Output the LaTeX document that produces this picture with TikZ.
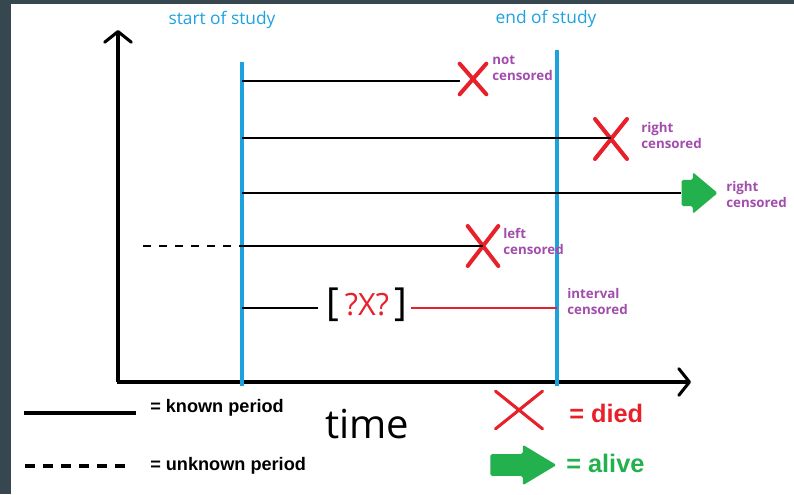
\documentclass[tikz,border=0pt]{standalone}
\usepackage{fontspec}
\setmainfont{Open Sans}
\newfontfamily\legendfont{Liberation Sans}
\usetikzlibrary{arrows.meta, positioning, shapes.misc, shapes.arrows}

\definecolor{studyblue}{HTML}{1CA3DE}
\definecolor{censpurple}{HTML}{A24DAD}
\definecolor{diedred}{HTML}{E8202A}
\definecolor{alivegreen}{HTML}{22B14C}
\definecolor{darkframe}{HTML}{37474F}

\begin{document}
\begin{tikzpicture}[
        x = 0.75pt, y = -0.75pt,
        >= {Straight Barb[length = 8pt, width = 20pt, round]},
        axis/.style = {line width = 2.3pt, ->},
        study/.style = {draw = studyblue, line width = 2.4pt},
        studytext/.style = {text = studyblue, font = \fontsize{13}{15}\selectfont},
        known/.style = {line width = 2.2pt},
        unknown/.style = {known, dash pattern = on 6pt off 6pt},
        died/.style = {cross out, draw = diedred, line width = 3pt, line cap = round,
            minimum width = 19pt, minimum height = 26pt, inner sep = 0pt},
        alive/.style = {single arrow, fill = alivegreen, rounded corners = 1.2pt,
            inner xsep = 0pt, inner ysep = 9.6pt, minimum height = 27pt,
            single arrow head extend = 5.8pt, single arrow tip angle = 80, anchor = tip},
        cens/.style = {text = censpurple, font = \bfseries\fontsize{10}{12}\selectfont,
            align = left, anchor = west, inner sep = 0pt},
        legend/.style = {font = \legendfont\bfseries\fontsize{13.6}{15}\selectfont,
            anchor = west, inner sep = 0pt}
    ]
      \useasboundingbox (0,0) rectangle (794,494);
      \fill[darkframe] (0,0) rectangle (794,494);
      \fill[white] (11,4) rectangle (794,494);

      % axes
      \coordinate (origin) at (118,382);
      \coordinate (ytip) at (118,30);
      \coordinate (xtip) at (691,382);
      \draw[axis] (origin) -- (ytip);
      \draw[axis] ([xshift = -0.9pt] origin) -- (xtip);

      % study window
      \coordinate (start top) at (242,62);
      \coordinate (start bot) at (242,386);
      \coordinate (end top) at (557,50);
      \coordinate (end bot) at (557,386);
      \draw[study] (start top) -- (start bot);
      \draw[study] (end top) -- (end bot);
      \node[studytext] (start lbl) at (222,20) {start of study};
      \node[studytext] (end lbl) at (546,19) {end of study};

      % subjects
      \coordinate (s1) at (242,81);
      \node[died, minimum width = 17pt, minimum height = 20pt] (d1) at (473,79) {};
      \draw[known] (s1) -- (s1 -| d1.west);
      \node[cens] (l1) at (492,68) {not\\censored};

      \coordinate (s2) at (242,138);
      \node[died, minimum width = 21pt, minimum height = 27pt] (d2) at (611,139) {};
      \draw[known] (s2) -- (s2 -| d2.center);
      \node[cens] (l2) at (641,135) {right\\censored};

      \coordinate (s3) at (242,193);
      \node[alive] (a3) at (718,193) {};
      \draw[known] (s3) -- (a3.tail);
      \node[cens] (l3) at (726,194) {right\\censored};

      \coordinate (u4) at (143,246);
      \coordinate (s4) at (242,246);
      \node[died, minimum width = 20pt, minimum height = 27pt] (d4) at (483,246) {};
      \draw[unknown] (u4) -- (s4);
      \draw[known] (s4) -- (s4 -| d4.center);
      \node[cens] (l4) at (503,241) {left\\censored};

      \coordinate (s5) at (242,308);
      \coordinate (e5) at (557,308);
      \node[font = \fontsize{29}{30}\selectfont, inner sep = 0pt] (ivl) at (367,305)
          {[\hspace{4pt}{\fontsize{23}{25}\selectfont\textcolor{diedred}{?X?}}\hspace{4pt}]};
      \draw[known] (s5) -- (318,308);
      \draw[diedred, line width = 1.6pt] (ivl.east |- e5) ++(4,0) -- (e5);
      \node[cens] (l5) at (567,301) {interval\\censored};

      % legend
      \coordinate (k1) at (24,413);
      \coordinate (k2) at (136,413);
      \draw[line width = 3pt] (k1) -- (k2);
      \node[legend] (known lbl) at (150,408) {= known period};
      \coordinate (u1) at (25,466);
      \coordinate (u2) at (128,466);
      \draw[line width = 3pt, dash pattern = on 7.5pt off 6pt] (u1) -- (u2);
      \node[legend] (unknown lbl) at (150,466) {= unknown period};

      \node[font = \fontsize{30}{32}\selectfont] (time) at (367,424) {time};

      \node[died, line width = 2.3pt, minimum width = 33pt, minimum height = 26pt] (died) at (519,410) {};
      \node[legend, text = diedred, font = \legendfont\bfseries\fontsize{19}{21}\selectfont] (died lbl) at (569,413) {= died};
      \node[alive, minimum height = 49.5pt, inner ysep = 8pt,
            single arrow head extend = 7pt, single arrow tip angle = 62] (alive) at (557,465) {};
      \node[legend, text = alivegreen, font = \legendfont\bfseries\fontsize{19}{21}\selectfont] (alive lbl) at (566,463) {= alive};
    \end{tikzpicture}
\end{document}
